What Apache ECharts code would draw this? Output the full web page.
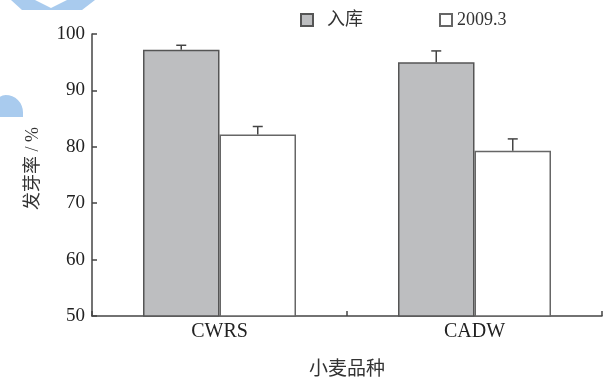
<!DOCTYPE html>
<html>
<head>
<meta charset="utf-8">
<script src="https://cdn.jsdelivr.net/npm/echarts@6/dist/echarts.min.js"></script>
<style>
html,body{margin:0;padding:0;background:#fff;}
#c{width:610px;height:379px;}
</style>
</head>
<body>
<div id="c"></div>
<script>
var categories = ['CWRS', 'CADW'];
var seriesNames = ['入库', '2009.3'];
var storedValues = [97.2, 95.0];
var storedErrTop = [98.0, 97.0];
var marchValues = [82.2, 79.3];
var marchErrTop = [83.6, 81.4];
var yTicks = [50, 60, 70, 80, 90, 100];

var FONT = '"Liberation Serif", "Noto Sans CJK SC", serif';
var chart = echarts.init(document.getElementById('c'), null, {renderer: 'canvas'});

function errData(vals, tops) {
  return vals.map(function (v, i) { return [i, v, tops[i]]; });
}
function errRender(sign) {
  return function (params, api) {
    var ci = api.value(0);
    var base = api.coord([ci, api.value(1)]);
    var top = api.coord([ci, api.value(2)]);
    var bw = api.size([1, 0])[0] * 0.3;
    var x = base[0] + sign * bw / 2;
    var style = {stroke: '#444', lineWidth: 1.5};
    return {
      type: 'group',
      children: [
        {type: 'line', shape: {x1: x, y1: base[1], x2: x, y2: top[1]}, style: style},
        {type: 'line', shape: {x1: x - 5, y1: top[1], x2: x + 5, y2: top[1]}, style: style}
      ]
    };
  };
}

chart.setOption({
  animation: false,
  backgroundColor: '#fff',
  graphic: [
    {type: 'polygon', shape: {points: [[11,0],[35,0],[51,8],[67,0],[95,0],[82,10],[22,10]]}, style: {fill: '#a9cbee'}, z: 0},
    {type: 'rect', shape: {x: -4, y: 95, width: 27, height: 22, r: [10, 18, 0, 0]}, style: {fill: '#a9cbee'}, z: 0}
  ],
  legend: {
    data: seriesNames,
    left: 300,
    top: 11,
    padding: 0,
    itemWidth: 12,
    itemHeight: 12,
    itemGap: 76,
    icon: 'rect',
    formatter: function (name) { return name === seriesNames[0] ? '  ' + name : name; },
    textStyle: {fontFamily: FONT, fontSize: 18, color: '#333'}
  },
  grid: {left: 92, right: 8, top: 34, bottom: 63, containLabel: false, outerBoundsMode: 'none'},
  xAxis: {
    type: 'category',
    data: categories,
    name: '小麦品种',
    nameLocation: 'middle',
    nameGap: 45,
    nameTextStyle: {fontFamily: FONT, fontSize: 19, color: '#333'},
    axisLine: {lineStyle: {color: '#444', width: 1.5}},
    axisTick: {show: true, inside: true, length: 5, lineStyle: {color: '#444', width: 1.5}},
    axisLabel: {fontFamily: FONT, fontSize: 20, color: '#222', margin: 6}
  },
  yAxis: {
    type: 'value',
    min: yTicks[0],
    max: yTicks[yTicks.length - 1],
    interval: 10,
    name: '发芽率 / %',
    nameLocation: 'middle',
    nameGap: 50,
    nameRotate: 90,
    nameTextStyle: {fontFamily: FONT, fontSize: 18, color: '#333', padding: [0, 0, 0, 13]},
    axisLine: {show: true, lineStyle: {color: '#444', width: 1.5}},
    axisTick: {show: true, inside: true, length: 5, lineStyle: {color: '#444', width: 1.5}},
    splitLine: {show: false},
    axisLabel: {fontFamily: FONT, fontSize: 19, color: '#222', margin: 7}
  },
  series: [
    {
      name: seriesNames[0], type: 'bar', data: storedValues,
      barWidth: '30%', barGap: '0%',
      itemStyle: {color: '#bdbec0', borderColor: '#555', borderWidth: 1.5}
    },
    {
      name: seriesNames[1], type: 'bar', data: marchValues,
      barWidth: '30%', barGap: '0%',
      itemStyle: {color: '#ffffff', borderColor: '#666', borderWidth: 1.5}
    },
    {type: 'custom', renderItem: errRender(-1), data: errData(storedValues, storedErrTop), z: 5, silent: true},
    {type: 'custom', renderItem: errRender(1), data: errData(marchValues, marchErrTop), z: 5, silent: true}
  ]
});
</script>
</body>
</html>
